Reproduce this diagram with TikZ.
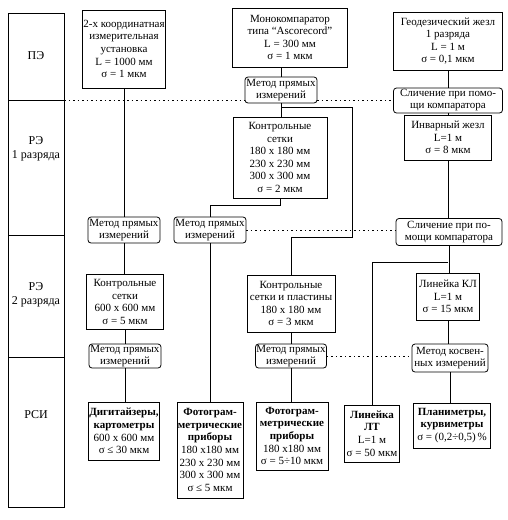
\documentclass[tikz,border=0pt]{standalone}
\usepackage{fontspec}
\setmainfont{Liberation Serif}
\usepackage{tikz}
\usetikzlibrary{positioning, calc}

\newcommand{\diagfont}{\fontsize{11}{12.6}\selectfont}
\newcommand{\methodfont}{\fontsize{11}{12}\selectfont}

\begin{document}
\begin{tikzpicture}[x=1pt, y=-1pt,
    box/.style={draw, line width=0.8pt, align=center, inner sep=1pt, font=\diagfont},
    method/.style={box, rounded corners=3pt, font=\methodfont},
    level/.style={align=center, font=\fontsize{12}{14}\selectfont},
    link/.style={line width=0.8pt},
    dotline/.style={line width=0.6pt, dash pattern=on 1.5pt off 3pt}]
    \useasboundingbox (0,0) rectangle (507,520);

    % Levels
    \draw [link] (8,13) rectangle (64,507);
    \draw [link] (8,100) -- (64,100);
    \draw [link] (8,235) -- (64,235);
    \draw [link] (8,357) -- (64,357);
    \node [level] (pe) at (36,56) {ПЭ};
    \node [level] (re1) at (36,149) {РЭ\\1 разряда};
    \node [level] (re2) at (36,295) {РЭ\\2 разряда};
    \node [level] (rsi) at (36,415) {РСИ};

    % Column A
    \node [box, minimum width=80, minimum height=78] (a1) at (124,49)
        {2-х координатная\\измерительная\\установка\\L = 1000 мм\\σ = 1 мкм};
    \node [method, minimum width=72, minimum height=26] (a2) at (124,230) {Метод прямых\\измерений};
    \node [box, minimum width=77, minimum height=55] (a3) at (125,302)
        {Контрольные\\сетки\\600 х 600 мм\\σ = 5 мкм};
    \node [method, minimum width=72, minimum height=24] (a4) at (125,356) {Метод прямых\\измерений};
    \node [box, minimum width=68, minimum height=58] (a5) at (124,431)
        {\textbf{Дигитайзеры,}\\\textbf{картометры}\\600 х 600 мм\\σ ≤ 30 мкм};

    % Column B
    \node [box, minimum width=115, minimum height=59] (b1) at (290,37.5)
        {Монокомпаратор\\типа ``Ascorecord''\\L = 300 мм\\σ = 1 мкм};
    \node [method, minimum width=72, minimum height=26] (b2) at (281,90) {Метод прямых\\измерений};
    \node [box, minimum width=94, minimum height=81] (b3) at (280,157.5)
        {Контрольные\\сетки\\180 х 180 мм\\230 х 230 мм\\300 х 300 мм\\σ = 2 мкм};
    \node [method, minimum width=72, minimum height=26] (b4) at (210,230) {Метод прямых\\измерений};
    \node [box, minimum width=66, minimum height=96] (b5) at (210,450)
        {\textbf{Фотограм-}\\\textbf{метрические}\\\textbf{приборы}\\180 х180 мм\\230 х 230 мм\\300 х 300 мм\\σ ≤ 5 мкм};

    % Column C
    \node [box, minimum width=88, minimum height=57] (c1) at (291,303.5)
        {Контрольные\\сетки и пластины\\180 х 180 мм\\σ = 3 мкм};
    \node [method, minimum width=71, minimum height=24] (c2) at (291,356) {Метод прямых\\измерений};
    \node [box, minimum width=72, minimum height=68] (c3) at (292,436)
        {\textbf{Фотограм-}\\\textbf{метрические}\\\textbf{приборы}\\180 х180 мм\\σ = 5÷10 мкм};

    % Column D
    \node [box, minimum width=109, minimum height=58] (d1) at (448,41)
        {Геодезический жезл\\1 разряда\\L = 1 м\\σ = 0,1 мкм};
    \node [method, minimum width=109, minimum height=25] (d2) at (448,100.5) {Сличение при помо-\\щи компаратора};
    \node [box, minimum width=87, minimum height=45] (d3) at (448,137.5)
        {Инварный жезл\\L=1 м\\σ = 8 мкм};
    \node [method, minimum width=106, minimum height=27] (d4) at (449,232) {Сличение при по-\\мощи компаратора};
    \node [box, minimum width=63, minimum height=47] (d5) at (448,296.5)
        {Линейка КЛ\\L=1 м\\σ = 15 мкм};
    \node [method, minimum width=76, minimum height=28] (d6) at (450,358) {Метод косвен-\\ных измерений};
    \node [box, minimum width=77, minimum height=45] (d7) at (452,425.5)
        {\textbf{Планиметры,}\\\textbf{курвиметры}\\σ = (0,2÷0,5)\,\%};
    \node [box, minimum width=55, minimum height=57] (lt) at (372,433.5)
        {\textbf{Линейка}\\\textbf{ЛТ}\\L=1 м\\σ = 50 мкм};

    % Links
    \draw [link] (a1.south) -- (a1.south |- a2.north);
    \draw [link] (a2.south) -- (a2.south |- a3.north);
    \draw [link] (a3.south) -- (a3.south |- a4.north);
    \draw [link] (a4.south) -- (a4.south |- a5.north);
    \draw [link] (b2.north) -- (b2.north |- b1.south);
    \draw [link] (b2.south) -- (b2.south |- b3.north);
    \coordinate (jb) at (281,107);
    \coordinate (jr) at (352,237);
    \draw [link] (jb) -| (jr) -| (c1.north);
    \coordinate (jd) at (210,205);
    \draw [link] (b3.south) |- (jd) -- (b4.north);
    \draw [link] (b4.south) -- (b4.south |- b5.north);
    \draw [link] (c1.south) -- (c1.south |- c2.north);
    \draw [link] (c2.south) -- (c2.south |- c3.north);
    \draw [link] (d1.south) -- (d1.south |- d2.north);
    \draw [link] (d2.south) -- (d2.south |- d3.north);
    \draw [link] (d3.south) -- (d3.south |- d4.north);
    \draw [link] (d4.south) -- (d4.south |- d5.north);
    \coordinate (je) at (448,262);
    \draw [link] (je) -| (lt.north);
    \draw [link] (d5.south) -- (d5.south |- d6.north);
    \draw [link] (d6.south) -- (d6.south |- d7.north);

    % Dotted level lines
    \coordinate (dl1) at (64,100);
    \draw [dotline] (dl1) -- (dl1 -| b2.west);
    \draw [dotline] (dl1 -| b2.east) -- (dl1 -| d2.west);
    \draw [dotline] (b4.east) -- (b4.east -| d4.west);
    \draw [dotline] (c2.east) -- (c2.east -| d6.west);
\end{tikzpicture}
\end{document}
